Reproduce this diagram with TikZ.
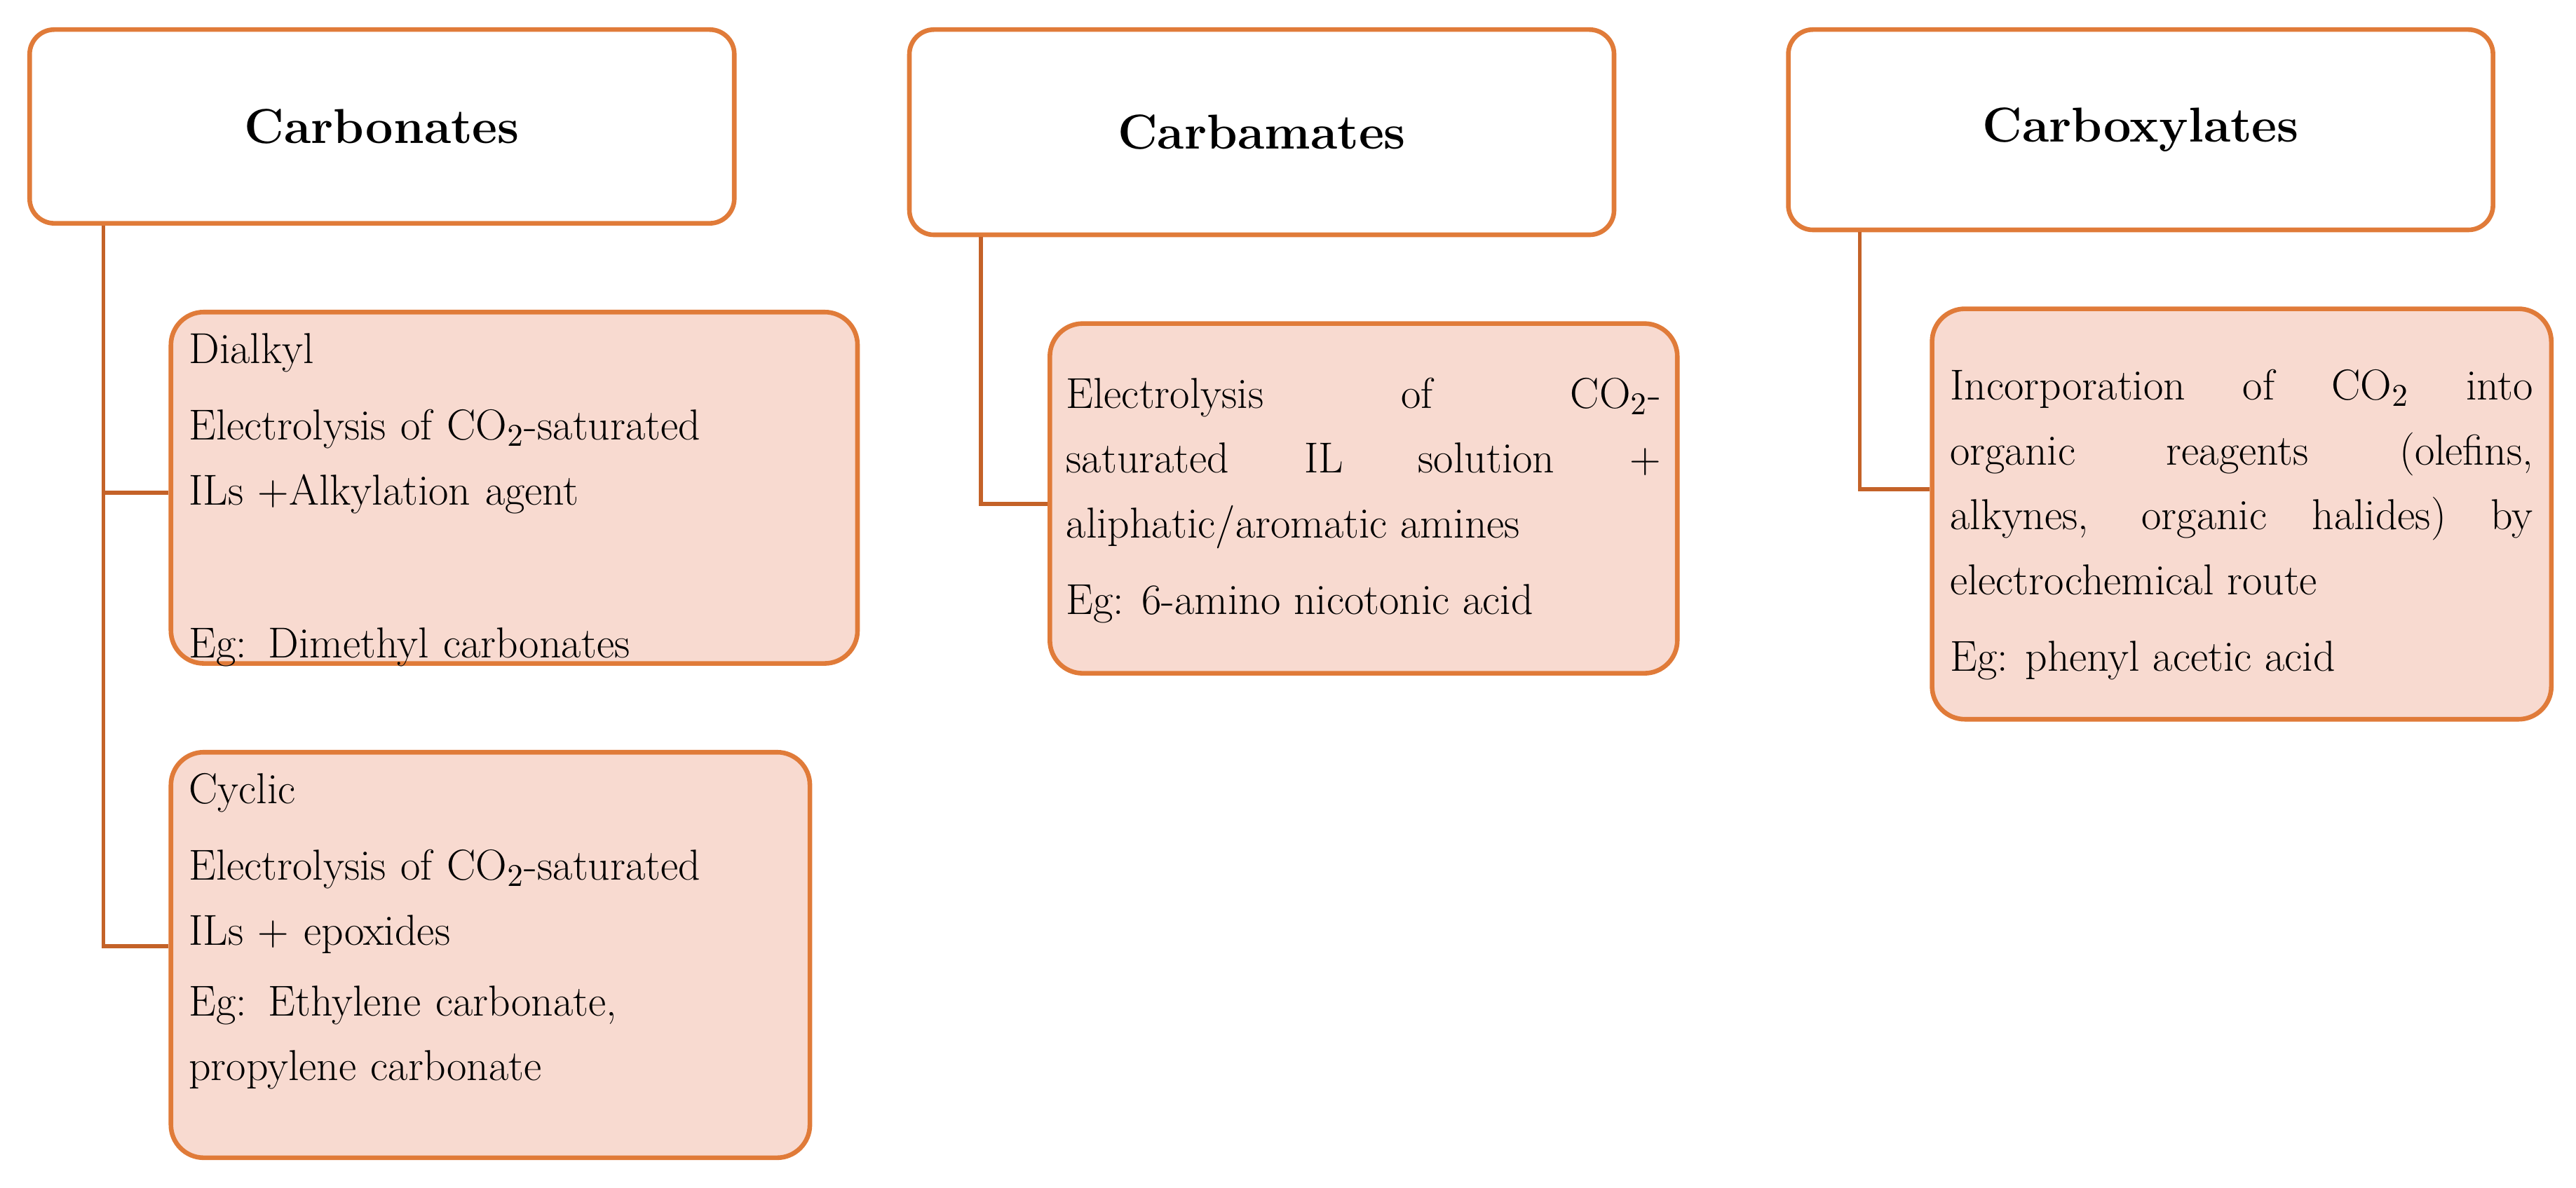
\documentclass[tikz,border=0pt]{standalone}
\usetikzlibrary{positioning}
\definecolor{boxLine}{RGB}{224,123,57}
\definecolor{boxFill}{RGB}{248,218,208}
\definecolor{linkLine}{RGB}{196,98,40}
\begin{document}
\begin{tikzpicture}[x=0.02cm,y=-0.02cm]

	\tikzset{
		headBox/.style={
			draw=boxLine, line width=1.6pt, fill=white,
			rounded corners=0.3cm,
			minimum width=8.58cm,
			inner sep=0,
			font=\fontsize{17}{20}\selectfont\bfseries,
		},
		subBox/.style={
			draw=boxLine, line width=1.6pt, fill=boxFill,
			rounded corners=0.4cm,
			inner sep=0,
		},
		subText/.style={
			anchor=north west,
			inner sep=0,
			align=left,
			font=\fontsize{15}{22.5}\selectfont,
		},
		link/.style={
			draw=linkLine, line width=1.4pt,
		},
	}

	\useasboundingbox (0,0) rectangle (1568,723);

	% Headers
	\node[headBox,minimum height=2.36cm] (carbonates) at (232.5,77) {Carbonates};
	\node[headBox,minimum height=2.5cm] (carbamates) at (768,80.5) {Carbamates};
	\node[headBox,minimum height=2.44cm] (carboxylates) at (1303,79) {Carboxylates};

	% Carbonates
	\node[subBox,minimum width=8.36cm,minimum height=4.28cm] (dialkyl) at (313,297) {};
	\node[subText,text width=8cm] (dialkylText) at ([shift={(12,14)}]dialkyl.north west)
		{Dialkyl\\[4pt] Electrolysis of CO$_2$-saturated\\ ILs +Alkylation agent\\[4pt] \mbox{}\\[4pt] Eg: Dimethyl carbonates};
	\node[subBox,minimum width=7.78cm,minimum height=4.94cm] (cyclic) at (298.5,581.5) {};
	\node[subText,text width=7.5cm] (cyclicText) at ([shift={(12,14)}]cyclic.north west)
		{Cyclic\\[4pt] Electrolysis of CO$_2$-saturated\\ ILs + epoxides\\[2pt] Eg: Ethylene carbonate,\\ propylene carbonate};

	\coordinate (carbonatesFoot) at (63,576);
	\draw[link] (carbonates.south -| carbonatesFoot) -- (carbonatesFoot) -- (cyclic.west |- carbonatesFoot);
	\draw[link] (63,300) -- (dialkyl.west |- 0,300);

	% Carbamates
	\node[subBox,minimum width=7.64cm,minimum height=4.26cm] (amines) at (830,303.5) {};
	\node[subText,text width=7.24cm,align=justify] (aminesText) at ([shift={(11,34)}]amines.north west)
		{Electrolysis of CO$_2$-\linebreak saturated IL solution +\linebreak aliphatic/aromatic amines\par\vspace{4pt}
		Eg: 6-amino nicotonic acid};
	\coordinate (carbamatesFoot) at (597,307);
	\draw[link] (carbamates.south -| carbamatesFoot) -- (carbamatesFoot) -- (amines.west |- carbamatesFoot);

	% Carboxylates
	\node[subBox,minimum width=7.54cm,minimum height=5cm] (organic) at (1364.5,313) {};
	\node[subText,text width=7.1cm,align=justify] (organicText) at ([shift={(12,38)}]organic.north west)
		{Incorporation of CO$_2$ into\linebreak organic reagents (olefins,\linebreak alkynes, organic halides) by\linebreak electrochemical route\par\vspace{4pt}
		Eg: phenyl acetic acid};
	\coordinate (carboxylatesFoot) at (1132,298);
	\draw[link] (carboxylates.south -| carboxylatesFoot) -- (carboxylatesFoot) -- (organic.west |- carboxylatesFoot);

\end{tikzpicture}
\end{document}
